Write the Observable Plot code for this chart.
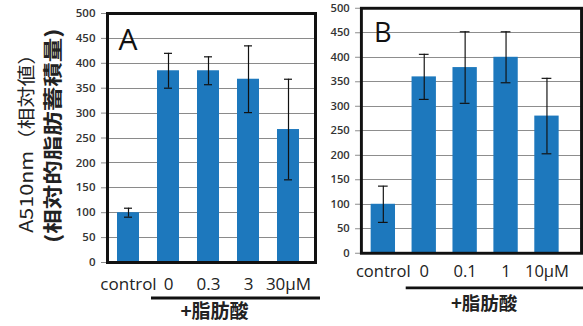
<!DOCTYPE html>
<html>
<head>
<meta charset="utf-8">
<script src="https://cdn.jsdelivr.net/npm/d3@7"></script>
<script src="https://cdn.jsdelivr.net/npm/@observablehq/plot@0.6"></script>
<style>
  html, body { margin: 0; padding: 0; background: #fff; }
  #wrap { position: relative; width: 583px; height: 326px; overflow: hidden; background: #fff; }
  #wrap > div.panel { position: absolute; top: 0; }
  .ylab { position: absolute; white-space: nowrap; font-family: "Noto Sans CJK JP", sans-serif; color: #222; line-height: 1; }
</style>
</head>
<body>
<div id="wrap">
  <div class="panel" id="pa" style="left:0px"></div>
  <div class="panel" id="pb" style="left:320px"></div>
</div>
<script>
// ---- data ----
const catsA = ["control", "0", "0.3", "3", "30μM"];
const valsA = [100, 385, 385, 368, 267];
const errsA = [9, 35, 28, 67, 101];

const catsB = ["control", "0", "0.1", "1", "10μM"];
const valsB = [100, 360, 379, 400, 280];
const errsB = [37, 46, 73, 52, 77];

const yTicks = [0, 50, 100, 150, 200, 250, 300, 350, 400, 450, 500];
const panelLetters = ["A", "B"];
const groupLabel = "+脂肪酸";
const yLabel1 = "A510nm（相対値）";
const yLabel2 = "(相対的脂肪蓄積量)";

const barColor = "#1d78bd";
const gridColor = "#8a8a8a";

function panel(cats, vals, errs, letter, o) {
  const data = cats.map((c, i) => ({c, v: vals[i], e: errs[i]}));
  const first = cats[0], last = cats[cats.length - 1];
  return Plot.plot({
    width: o.width, height: 326,
    marginLeft: o.ml, marginRight: o.mr, marginTop: o.mt, marginBottom: o.mb,
    style: {fontFamily: "'Open Sans', sans-serif", background: "transparent", color: "#222"},
    x: {type: "band", domain: cats, paddingInner: o.pad, paddingOuter: o.pad / 2, insetLeft: o.il, insetRight: o.ir, label: null},
    y: {domain: [0, 500], label: null},
    marks: [
      // horizontal gridlines across the whole frame
      Plot.ruleY(yTicks, {y: d => d, x1: () => first, x2: () => last,
        insetLeft: o.gil, insetRight: o.gir, stroke: gridColor, strokeWidth: 1, shapeRendering: "crispEdges"}),
      Plot.axisY(yTicks, {tickSize: 6, tickPadding: 6, stroke: gridColor, fontSize: 11.5, fontWeight: 600, fill: "#333", label: null}),
      Plot.barY(data, {x: "c", y: "v", fill: barColor}),
      Plot.ruleX(data, {x: "c", y1: d => d.v - d.e, y2: d => d.v + d.e, stroke: "#111", strokeWidth: 1.2}),
      Plot.tickY(data, {x: "c", y: d => d.v + d.e, inset: o.cap, stroke: "#111", strokeWidth: 1.2}),
      Plot.tickY(data, {x: "c", y: d => d.v - d.e, inset: o.cap, stroke: "#111", strokeWidth: 1.2}),
      Plot.axisX({tickSize: 0, tickPadding: o.xpad, fontSize: 17, fill: "#222", label: null}),
      Plot.frame({stroke: "#111", strokeWidth: 3, fill: "none"}),
      Plot.ruleY([0], {y: d => d, x1: () => cats[1], x2: () => last,
        dy: o.bdy, insetLeft: o.bil, insetRight: o.bir, stroke: "#111", strokeWidth: 3}),
      Plot.text([groupLabel], {text: d => d, frameAnchor: "bottom", lineAnchor: "middle", dx: o.gdx, dy: o.gdy,
        fontSize: 19, fontWeight: "bold", fontFamily: "'Noto Sans CJK JP', sans-serif", fill: "#222"}),
      Plot.text([letter], {text: d => d, frameAnchor: "top-left", lineAnchor: "top", textAnchor: "start",
        dx: o.ldx, dy: o.ldy, fontSize: o.lfs, fill: "#111"})
    ]
  });
}

const plotA = panel(catsA, valsA, errsA, panelLetters[0], {
  width: 330, ml: 107, mr: 15, mt: 13, mb: 64,
  pad: 0.45, il: 1, ir: 6.5, cap: 7, xpad: 15,
  gil: -10, gir: -16,
  bdy: 35.5, bil: -6, bir: -21, gdx: 3, gdy: 49.5,
  ldx: 11, ldy: 15, lfs: 30
});
const plotB = panel(catsB, valsB, errsB, panelLetters[1], {
  width: 270, ml: 42, mr: 2, mt: 8, mb: 66.5,
  pad: 0.41, il: 1, ir: 14, cap: 7.5, xpad: 12.5,
  gil: -10, gir: -23,
  bdy: 35.5, bil: -6, bir: -30, gdx: 13, gdy: 52,
  ldx: 13, ldy: 15, lfs: 28
});
document.getElementById("pa").appendChild(plotA);
document.getElementById("pb").appendChild(plotB);

// rotated y-axis label (two lines)
function addYLabel(text, cx, cy, len, size, weight) {
  const el = document.createElement("div");
  el.className = "ylab";
  el.textContent = text;
  el.style.fontSize = size + "px";
  el.style.fontWeight = weight;
  document.getElementById("wrap").appendChild(el);
  const w = el.offsetWidth, h = el.offsetHeight;
  el.style.left = (cx - w / 2) + "px";
  el.style.top = (cy - h / 2) + "px";
  el.style.transform = `rotate(-90deg) scaleX(${len / w})`;
}
addYLabel(yLabel1, 25, 138, 190, 18, "normal");
addYLabel(yLabel2, 51, 135.5, 215, 19.5, "bold");
</script>
</body>
</html>
